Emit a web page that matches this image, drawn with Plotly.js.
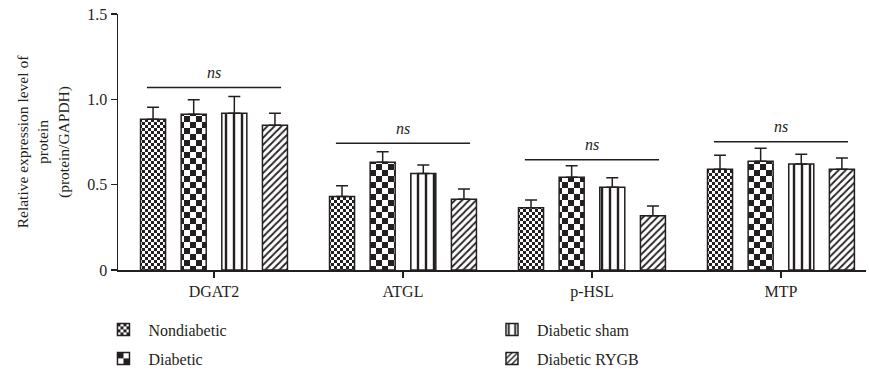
<!DOCTYPE html>
<html><head><meta charset="utf-8">
<script src="https://cdn.plot.ly/plotly-3.0.1.min.js"></script>
<style>html,body{margin:0;padding:0;background:#fff}#chart{width:869px;height:373px}</style>
</head><body><div id="chart"></div>
<script>
// ---- data ----
const categories = ['DGAT2', 'ATGL', 'p-HSL', 'MTP'];
const groupNames = ['Nondiabetic', 'Diabetic', 'Diabetic sham', 'Diabetic RYGB'];
const nondiabeticMean = [0.883, 0.430, 0.365, 0.590];
const nondiabeticErr  = [0.070, 0.064, 0.045, 0.082];
const diabeticMean    = [0.912, 0.631, 0.543, 0.637];
const diabeticErr     = [0.086, 0.062, 0.068, 0.076];
const shamMean        = [0.918, 0.566, 0.485, 0.621];
const shamErr         = [0.098, 0.049, 0.056, 0.057];
const rygbMean        = [0.848, 0.414, 0.318, 0.590];
const rygbErr         = [0.070, 0.061, 0.057, 0.066];
const sigLineY  = [1.07, 0.742, 0.646, 0.752];
const sigLabels = ['ns', 'ns', 'ns', 'ns'];
const yTickVals = [0, 0.5, 1.0, 1.5];
const yTickText = ['0', '0.5', '1.0', '1.5'];

// ---- styling ----
const INK = '#231f20';
const FONT = 'Liberation Serif, Times New Roman, serif';
const means = [nondiabeticMean, diabeticMean, shamMean, rygbMean];
const errs = [nondiabeticErr, diabeticErr, shamErr, rygbErr];
const patterns = [
  {shape: '.', size: 6, solidity: 0.5},
  {shape: '+', size: 12, solidity: 0.5},
  {shape: '|', size: 8, solidity: 0.3},
  {shape: '/', size: 5, solidity: 0.35}
];
const legendIds = ['legend', 'legend2', 'legend3', 'legend4'];
const legendPos = [
  {x: -0.0261, y: 0.1622},
  {x: -0.0261, y: 0.0845},
  {x: 0.4933, y: 0.1622},
  {x: 0.4933, y: 0.0845}
];

const traces = groupNames.map((name, i) => ({
  type: 'bar',
  name: name,
  x: categories,
  y: means[i],
  legend: legendIds[i],
  marker: {
    color: '#ffffff',
    line: {color: INK, width: 1.5},
    pattern: Object.assign({fgcolor: INK, bgcolor: '#ffffff', fillmode: 'replace'}, patterns[i])
  },
  error_y: {
    type: 'data', symmetric: false, array: errs[i],
    arrayminus: errs[i].map(() => 0),
    color: INK, thickness: 1.5, width: 6
  },
  hoverinfo: 'skip'
}));

const SIG_HALF = 0.355;
const shapes = categories.map((c, i) => ({
  type: 'line', xref: 'x', yref: 'y',
  x0: i - SIG_HALF, x1: i + SIG_HALF, y0: sigLineY[i], y1: sigLineY[i],
  line: {color: INK, width: 1.5}
}));
const annotations = categories.map((c, i) => ({
  xref: 'x', yref: 'y', x: i, y: sigLineY[i],
  text: '<i>' + sigLabels[i] + '</i>', showarrow: false,
  yanchor: 'middle', yshift: 15,
  font: {family: FONT, size: 16, color: INK}
}));

const legendBase = {
  orientation: 'v', xanchor: 'left', yanchor: 'top',
  xref: 'paper', yref: 'container',
  font: {family: FONT, size: 16, color: INK},
  bgcolor: 'rgba(0,0,0,0)', itemwidth: 40
};

const layout = {
  width: 869, height: 373,
  margin: {l: 118, r: 3, t: 14, b: 103},
  paper_bgcolor: '#ffffff', plot_bgcolor: '#ffffff',
  font: {family: FONT, size: 16, color: INK},
  barmode: 'group', bargap: 0.14, bargroupgap: 0.384,
  showlegend: true,
  xaxis: {
    type: 'category', range: [-0.508, 3.45],
    showline: true, linecolor: INK, linewidth: 1.5,
    ticks: 'outside', ticklen: 6, tickwidth: 1.5, tickcolor: INK,
    showgrid: false, zeroline: false,
    tickfont: {family: FONT, size: 16, color: INK}
  },
  yaxis: {
    range: [0, 1.5], tickvals: yTickVals, ticktext: yTickText,
    showline: true, linecolor: INK, linewidth: 1.5,
    ticks: 'outside', ticklen: 6, tickwidth: 1.5, tickcolor: INK,
    showgrid: false, zeroline: false,
    tickfont: {family: FONT, size: 16, color: INK},
    title: {text: 'Relative expression level of<br>protein<br>(protein/GAPDH)',
            font: {family: FONT, size: 15.5, color: INK}, standoff: 14}
  },
  shapes: shapes,
  annotations: annotations
};
legendIds.forEach((id, i) => { layout[id] = Object.assign({}, legendBase, legendPos[i]); });

function applyCheckers(gd) {
  const NS = 'http://www.w3.org/2000/svg';
  const svg = gd.querySelector('svg.main-svg');
  let defs = svg.querySelector('defs');
  if (!defs) { defs = document.createElementNS(NS, 'defs'); svg.insertBefore(defs, svg.firstChild); }
  function rect(x, y, w, h, f) {
    const r = document.createElementNS(NS, 'rect');
    r.setAttribute('x', x); r.setAttribute('y', y);
    r.setAttribute('width', w); r.setAttribute('height', h);
    r.setAttribute('fill', f); return r;
  }
  function mk(id, c) {
    const p = document.createElementNS(NS, 'pattern');
    p.setAttribute('id', id); p.setAttribute('patternUnits', 'userSpaceOnUse');
    p.setAttribute('width', 2 * c); p.setAttribute('height', 2 * c);
    p.appendChild(rect(0, 0, 2 * c, 2 * c, '#ffffff'));
    p.appendChild(rect(0, 0, c, c, INK));
    p.appendChild(rect(c, c, c, c, INK));
    defs.appendChild(p);
  }
  mk('chk-fine', 3); mk('chk-big', 6);
  const ids = {0: 'chk-fine', 1: 'chk-big'};
  function idxOf(g) {
    const d = g.__data__;
    if (d && d[0] && d[0].trace) return d[0].trace.index;
    if (d && d[0] && d[0][0] && d[0][0].trace) return d[0][0].trace.index;
    return -1;
  }
  gd.querySelectorAll('g.trace.bars').forEach(g => {
    const k = idxOf(g);
    if (ids[k]) g.querySelectorAll('path.point, g.point path').forEach(p => { p.style.fill = 'url(#' + ids[k] + ')'; });
  });
  gd.querySelectorAll('g.traces').forEach(g => {
    const k = idxOf(g);
    if (ids[k]) g.querySelectorAll('g.legendpoints path').forEach(p => { p.style.fill = 'url(#' + ids[k] + ')'; });
  });
}

Plotly.newPlot('chart', traces, layout, {staticPlot: true, displayModeBar: false})
  .then(gd => applyCheckers(gd));
</script>
</body></html>
